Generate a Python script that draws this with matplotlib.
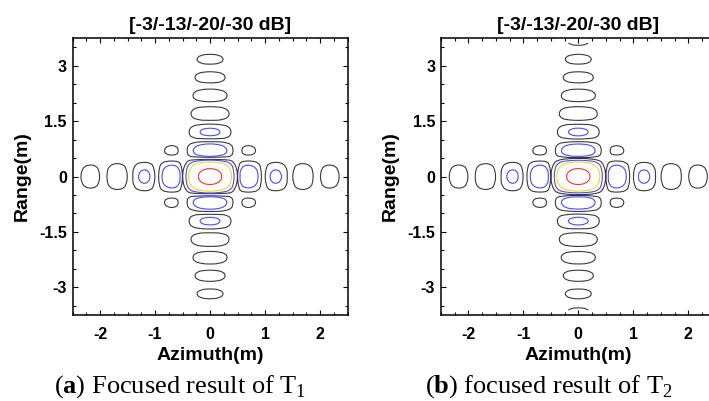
import numpy as np
import matplotlib
matplotlib.use("Agg")
import matplotlib.pyplot as plt
from matplotlib.ticker import MultipleLocator

plt.rcParams["font.family"] = ["Liberation Sans", "DejaVu Sans"]
plt.rcParams["mathtext.fontset"] = "custom"
plt.rcParams["mathtext.rm"] = "Liberation Serif"
plt.rcParams["mathtext.bf"] = "Liberation Serif:bold"

# contour levels (dB) and their colours
levels_db = [-30, -20, -13, -3]
level_colors = ["#3a3a3a", "#4a4aff", "#ffd21e", "#ff3030"]

# point target response: resolution (m) in azimuth / range for T1, T2
resolution_az = [0.485, 0.485]
resolution_rg = [0.49, 0.49]
extent_rg = [3.55, 3.62]

panel_titles = ["[-3/-13/-20/-30 dB]", "[-3/-13/-20/-30 dB]"]
captions = [r"($\mathbf{a}$) Focused result of T$_1$",
            r"($\mathbf{b}$) focused result of T$_2$"]
xticks = [-2, -1, 0, 1, 2]
yticks = [-3, -1.5, 0, 1.5, 3]
yticklabels = ["-3", "-1.5", "0", "1.5", "3"]
xticklabels = ["-2", "-1", "0", "1", "2"]

fig = plt.figure(figsize=(7.09, 4.01), dpi=100)
ax_lefts = [0.1023, 0.6217]
caption_x = [0.254, 0.774]

x = np.linspace(-2.5, 2.5, 101)
for i in range(2):
    ax = fig.add_axes([ax_lefts[i], 0.2147, 0.3879, 0.690])
    y = np.linspace(-extent_rg[i], extent_rg[i], 145)
    X, Y = np.meshgrid(x, y)
    amp = np.abs(np.sinc(X / resolution_az[i]) * np.sinc(Y / resolution_rg[i]))
    db = 20 * np.log10(np.maximum(amp, 1e-6))
    ax.contour(X, Y, db, levels=levels_db, colors=level_colors,
               linewidths=0.8)
    ax.set_xlim(-2.5, 2.5)
    ax.set_ylim(-3.75, 3.75)
    ax.set_xticks(xticks)
    ax.set_xticklabels(xticklabels)
    ax.set_yticks(yticks)
    ax.set_yticklabels(yticklabels)
    ax.xaxis.set_minor_locator(MultipleLocator(0.25))
    ax.yaxis.set_minor_locator(MultipleLocator(0.5))
    ax.tick_params(which="both", direction="in", top=True, right=True,
                   width=0.8, labelsize=11.5)
    ax.tick_params(which="major", length=3.5)
    ax.tick_params(which="minor", length=2)
    ax.tick_params(axis="x", pad=8.5)
    ax.tick_params(axis="y", pad=4)
    for lbl in ax.get_xticklabels() + ax.get_yticklabels():
        lbl.set_fontweight("bold")
    for s in ax.spines.values():
        s.set_linewidth(1.1)
    ax.set_title(panel_titles[i], fontsize=14, fontweight="bold", pad=6)
    ax.set_xlabel("Azimuth(m)", fontsize=14, fontweight="bold", labelpad=4)
    ax.set_ylabel("Range(m)", fontsize=14, fontweight="bold", labelpad=6)
    fig.text(caption_x[i], 0.035, captions[i], fontsize=19,
             family="Liberation Serif", ha="center", va="center")

fig.savefig("out.png", dpi=100)
